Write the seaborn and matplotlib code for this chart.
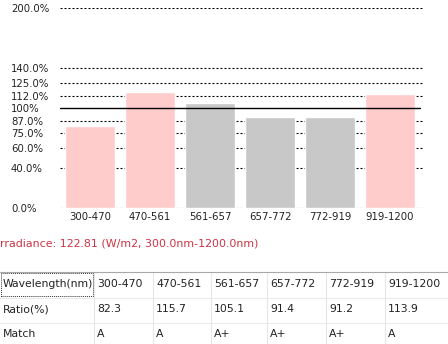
import matplotlib
matplotlib.use("Agg")
import matplotlib.pyplot as plt
import seaborn as sns
import pandas as pd
from matplotlib.lines import Line2D
from matplotlib.patches import Rectangle

# ---- data ----
categories = ["300-470", "470-561", "561-657", "657-772", "772-919", "919-1200"]
ratios = [82.3, 115.7, 105.1, 91.4, 91.2, 113.9]
matches = ["A", "A", "A+", "A+", "A+", "A"]
ytick_values = [0, 40, 60, 75, 87, 100, 112, 125, 140, 200]
ytick_labels = ["0.0%", "40.0%", "60.0%", "75.0%", "87.0%", "100%",
                "112.0%", "125.0%", "140.0%", "200.0%"]
irradiance_text = "rradiance: 122.81 (W/m2, 300.0nm-1200.0nm)"
row_headers = ["Wavelength(nm)", "Ratio(%)", "Match"]

match_colors = {"A": "#ffcccc", "A+": "#c8c8c8"}

sns.set_style("white")
plt.rcParams["font.family"] = ["DejaVu Sans"]

W, H = 448, 344
fig = plt.figure(figsize=(W / 100, H / 100), dpi=100)
fig.patch.set_facecolor("white")


def px(x, y):
    return x / W, 1 - y / H


# axes: x 60..423, y 8..208
ax = fig.add_axes([60 / W, (H - 208) / H, 363 / W, 200 / H])
df = pd.DataFrame({"cat": categories, "ratio": ratios, "match": matches})
palette = [match_colors[m] for m in matches]
sns.barplot(data=df, x="cat", y="ratio", hue="cat", palette=palette,
            width=0.82, legend=False, ax=ax, saturation=1, zorder=1)
ax.set_xlim(-0.5, 5.55)
ax.set_ylim(0, 200)
for v in ytick_values:
    if v == 100:
        ax.plot([-0.5, 5.5], [v, v], color="black", lw=1.0, zorder=3)
    else:
        ax.axhline(v, color="black", lw=0.8, ls=(0, (1.8, 1.8)), zorder=0.5)
ax.set_yticks(ytick_values)
ax.set_yticklabels(ytick_labels, ha="left")
ax.tick_params(axis="y", length=0, pad=49 * 0.72, labelsize=7.3, colors="#222222")
ax.tick_params(axis="x", length=0, pad=3, labelsize=7.3, colors="#222222")
ax.set_xlabel("")
ax.set_ylabel("")
for s in ax.spines.values():
    s.set_visible(False)
ax.set_facecolor("none")

# irradiance text
fig.text(*px(0, 244), irradiance_text, color="#cc3344", fontsize=7.9,
         ha="left", va="center")

# table
line_kw = dict(transform=fig.transFigure, lw=0.8)
fig.add_artist(Line2D([0, 1], [1 - 272 / H] * 2, color="#a8a8a8", **line_kw))
for yy in [298, 323]:
    fig.add_artist(Line2D([0, 1], [1 - yy / H] * 2, color="#ececec", **line_kw))
col_bounds = [94, 153, 211, 267, 326, 385]
for xx in col_bounds:
    fig.add_artist(Line2D([xx / W] * 2, [1 - 273 / H, 0], color="#e6e6e6", **line_kw))
fig.add_artist(Rectangle(px(1, 296), 92 / W, 23 / H, transform=fig.transFigure,
                         fill=False, ec="#333333", lw=0.7, ls=(0, (1, 1))))

col_x = [3] + [b + 3 for b in col_bounds]
row_y = [284, 309, 334]
rows = [categories, [f"{r:.1f}" for r in ratios], matches]
tfs = 7.8
for ri, (hdr, vals) in enumerate(zip(row_headers, rows)):
    fig.text(*px(col_x[0], row_y[ri]), hdr, fontsize=tfs, ha="left",
             va="center", color="#222222")
    for ci, v in enumerate(vals):
        fig.text(*px(col_x[ci + 1], row_y[ri]), v, fontsize=tfs, ha="left",
                 va="center", color="#222222")

fig.savefig("out.png", dpi=100, facecolor="white")
